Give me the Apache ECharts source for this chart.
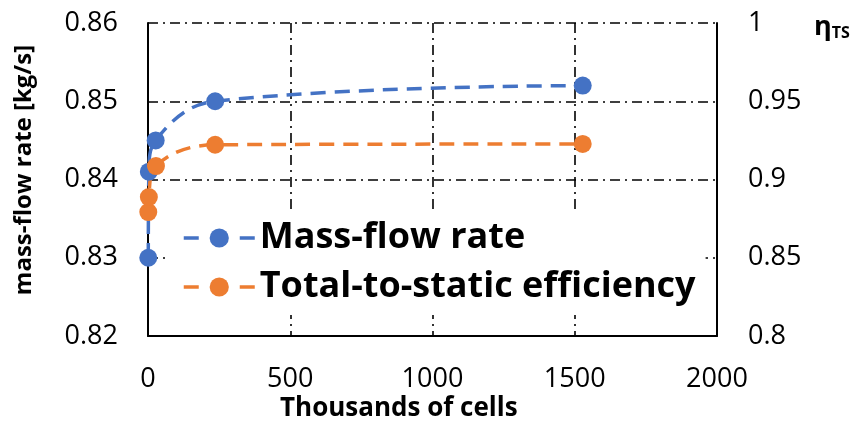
<!DOCTYPE html>
<html><head><meta charset="utf-8">
<script src="https://cdn.jsdelivr.net/npm/echarts@6/dist/echarts.min.js"></script>
<style>html,body{margin:0;padding:0;background:#fff}#c{width:854px;height:421px}</style>
</head><body><div id="c"></div>
<script>
const cells = [1, 3, 27, 236, 1528];
const massFlow = [0.830, 0.841, 0.845, 0.850, 0.852];
const cellsEff = [1, 3, 28, 236, 1528];
const efficiency = [0.8792, 0.8888, 0.9086, 0.9222, 0.9227];
const seriesNames = ['Mass-flow rate', 'Total-to-static efficiency'];
const xTitle = 'Thousands of cells';
const yTitle = 'mass-flow rate [kg/s]';

const FONT = 'Open Sans';
const chart = echarts.init(document.getElementById('c'), null, {renderer: 'canvas'});
const dashDot = [10, 5, 2, 5];
chart.setOption({
  animation: false,
  textStyle: {fontFamily: FONT},
  grid: {left: 148, right: 137, top: 23, bottom: 85},
  xAxis: {
    type: 'value', min: 0, max: 2000, interval: 500,
    axisLine: {lineStyle: {color: '#000', width: 2}},
    axisTick: {show: false},
    axisLabel: {color: '#000', fontSize: 27, margin: 30, fontFamily: FONT, formatter: v => String(v)},
    splitLine: {show: true, lineStyle: {color: '#000', width: 1.6, type: dashDot}}
  },
  yAxis: [{
    type: 'value', min: 0.82, max: 0.86, interval: 0.01,
    axisLine: {show: true, lineStyle: {color: '#000', width: 2}},
    axisTick: {show: false},
    axisLabel: {color: '#000', fontSize: 27, margin: 30, fontFamily: FONT, formatter: v => v.toFixed(2)},
    splitLine: {show: true, lineStyle: {color: '#000', width: 1.6, type: dashDot}}
  }, {
    type: 'value', min: 0.8, max: 1, interval: 0.05, position: 'right',
    axisLine: {show: true, lineStyle: {color: '#000', width: 2}},
    axisTick: {show: false},
    axisLabel: {color: '#000', fontSize: 27, margin: 31, fontFamily: FONT},
    splitLine: {show: false}
  }],
  legend: {
    orient: 'vertical', left: 165, top: 214,
    backgroundColor: '#fff',
    padding: [4, 10, 8, 17],
    itemWidth: 71, itemHeight: 24, itemGap: 9,
    lineStyle: {width: 3.5, type: [15, 41]},
    textStyle: {fontSize: 36, fontWeight: 'bold', color: '#000', fontFamily: FONT, lineHeight: 40},
    data: seriesNames
  },
  series: [{
    name: seriesNames[0], type: 'line', yAxisIndex: 0,
    data: cells.map((c, i) => [c, massFlow[i]]),
    smooth: 0.4,
    symbol: 'circle', symbolSize: 18,
    itemStyle: {color: '#4472C4'},
    lineStyle: {color: '#4472C4', width: 3.5, type: [15, 9]}
  }, {
    name: seriesNames[1], type: 'line', yAxisIndex: 1,
    data: cellsEff.map((c, i) => [c, efficiency[i]]),
    smooth: 0.4,
    symbol: 'circle', symbolSize: 18,
    itemStyle: {color: '#ED7D31'},
    lineStyle: {color: '#ED7D31', width: 3.5, type: [15, 9]}
  }],
  graphic: [{
    type: 'text', x: 280, y: 409,
    style: {text: xTitle, fill: '#000', font: 'bold 26px ' + FONT, align: 'left', verticalAlign: 'middle'}
  }, {
    type: 'text', x: 24, y: 170, rotation: Math.PI / 2,
    style: {text: yTitle, fill: '#000', font: 'bold 24px ' + FONT, align: 'center', verticalAlign: 'middle'}
  }, {
    type: 'text', left: 814, top: 14,
    style: {
      text: '{a|η}{b|TS}', fill: '#000',
      rich: {
        a: {fontSize: 27, fontWeight: 'bold', fontFamily: FONT, verticalAlign: 'bottom'},
        b: {fontSize: 16, fontWeight: 'bold', fontFamily: FONT, padding: [12, 0, 0, 0]}
      }
    }
  }]
});
</script></body></html>
